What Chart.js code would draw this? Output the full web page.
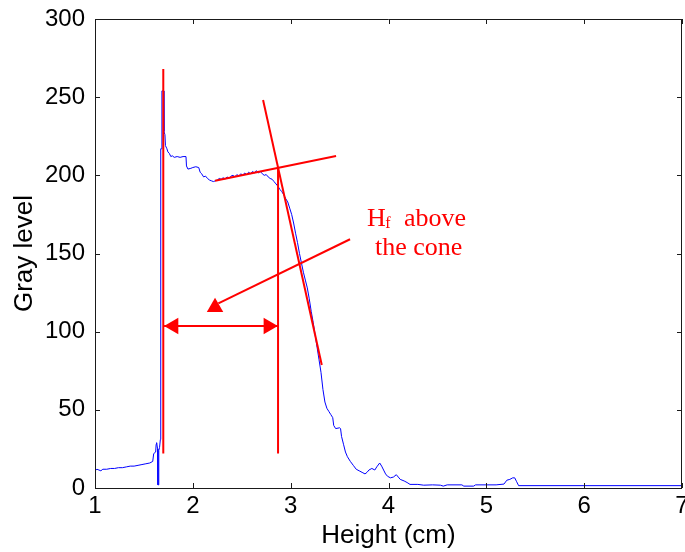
<!DOCTYPE html>
<html>
<head>
<meta charset="utf-8">
<title>Gray level profile</title>
<script src="https://cdn.jsdelivr.net/npm/chart.js@4"></script>
<style>
  html, body { margin: 0; padding: 0; background: #ffffff; }
  canvas { display: block; }
</style>
</head>
<body>
<canvas id="chart" width="685" height="552"></canvas>
<script>
// Gray-level profile along the height of the sample
const heightCm = [
  1.00, 1.02, 1.04, 1.06, 1.08, 1.12, 1.16, 1.20, 1.24, 1.28, 1.32, 1.36, 1.40, 1.44, 1.48, 1.52, 1.56, 1.59,
  1.60, 1.62, 1.625, 1.63, 1.64, 1.643, 1.648, 1.652, 1.66, 1.668, 1.672, 1.68, 1.684, 1.70, 1.705, 1.715,
  1.72, 1.735, 1.745, 1.76, 1.775, 1.79, 1.81, 1.84, 1.87, 1.90, 1.93, 1.935, 1.95, 1.98, 2.00, 2.03, 2.06,
  2.075, 2.09, 2.11, 2.13, 2.15, 2.17, 2.19, 2.21, 2.23, 2.25, 2.27, 2.29, 2.31, 2.33, 2.35, 2.37, 2.39,
  2.41, 2.43, 2.45, 2.47, 2.49, 2.51, 2.53, 2.55, 2.57, 2.59, 2.61, 2.63, 2.65, 2.67, 2.69, 2.71, 2.73,
  2.75, 2.77, 2.79, 2.81, 2.83, 2.85, 2.87, 2.89, 2.91, 2.93, 2.95, 2.97, 2.99, 3.01, 3.03, 3.05, 3.07,
  3.09, 3.11, 3.13, 3.15, 3.17, 3.19, 3.21, 3.23, 3.25, 3.27, 3.29, 3.31, 3.33, 3.35, 3.37, 3.39, 3.41,
  3.43, 3.44, 3.46, 3.50, 3.51, 3.52, 3.54, 3.56, 3.58, 3.61, 3.64, 3.67, 3.70, 3.73, 3.76, 3.78, 3.80,
  3.83, 3.86, 3.88, 3.91, 3.93, 3.95, 3.97, 3.99, 4.02, 4.05, 4.08, 4.10, 4.12, 4.16, 4.19, 4.22, 4.30,
  4.36, 4.45, 4.53, 4.56, 4.60, 4.75, 4.77, 4.87, 4.89, 5.00, 5.10, 5.18, 5.21, 5.24, 5.27, 5.29, 5.31,
  5.33, 6.00, 7.00
];
const grayLevel = [
  11, 12, 11.5, 11, 12, 12, 12.5, 12.5, 13, 13, 13.5, 14, 14, 14.5, 15, 15.5, 16, 17,
  22, 23, 28, 29, 25, 2, 2, 24, 26, 31, 217, 217, 254, 254, 228, 226,
  219, 217, 215, 214, 212, 212.5, 211.5, 212, 211.5, 212, 212, 206, 204, 204.5, 205, 205.5, 205,
  202, 201, 199, 199.5, 198, 197, 196.5, 196, 196.5, 197, 198, 197.5, 198.5, 197.5, 199, 198, 199.5,
  200, 199, 200.5, 199.5, 201, 200, 201.5, 200.5, 202, 201, 202.5, 201.5, 203, 201.5, 202.5, 201, 200,
  200.5, 199, 198, 197.5, 196, 194.5, 193, 191, 189.5, 187.5, 185, 183, 179, 175, 169.5, 163, 157,
  150, 144, 138, 133, 128, 121, 113, 106, 98, 90, 82, 74, 63, 55, 51, 49, 47,
  45, 40, 38, 38.5, 38, 33, 28, 23, 20, 17, 14.5, 12, 11, 10, 9, 10, 11.5,
  12.5, 11.5, 13.5, 16, 14, 11.5, 9, 7.5, 6.5, 7, 8.5, 7, 5.5, 4.5, 3.5, 2.3, 2.3,
  1.8, 2, 1.8, 1.2, 2, 2, 1.2, 1.2, 2, 2, 2, 2.5, 5, 5.5, 6.5, 6.5, 4,
  1.5, 1.5, 1.5
];

// Construction lines: front edges, tangents and the pointer (x in cm, y in gray level)
const leftEdgeX = [1.698, 1.698];
const leftEdgeY = [268, 22];
const frontEdgeX = [2.871, 2.871];
const frontEdgeY = [204.8, 22];
const plateauTangentX = [2.227, 3.464];
const plateauTangentY = [196.6, 212.4];
const slopeTangentX = [2.718, 3.318];
const slopeTangentY = [248.2, 78.7];
const spanArrowX = [1.706, 2.871];
const spanArrowY = [103.6, 103.6];
const pointerX = [3.607, 2.261];
const pointerY = [159.1, 118.1];

// Arrowheads (triangle centres) and their directions in degrees
const headX = [2.227, 1.803, 2.772];
const headY = [115.6, 103.6, 103.6];
const headRotation = [0, -90, 90];

// Axis ticks
const xTicks = [1, 2, 3, 4, 5, 6, 7];
const yTicks = [0, 50, 100, 150, 200, 250, 300];

const toPoints = (xs, ys) => xs.map((x, i) => ({ x: x, y: ys[i] }));

const redLine = (xs, ys) => ({
  data: toPoints(xs, ys),
  borderColor: '#ff0000',
  borderWidth: 2,
  pointRadius: 0,
  tension: 0,
  order: 0
});

// Box around the plot with inward tick marks on all four sides, plus the note
const frameAndNote = {
  id: 'frameAndNote',
  afterDatasetsDraw(chart) {
    const { ctx, chartArea: a, scales } = chart;
    const xs = scales.x, ys = scales.y;
    const tl = 5;
    ctx.save();
    ctx.strokeStyle = '#1a1a1a';
    ctx.lineWidth = 1;
    ctx.beginPath();
    ctx.rect(Math.round(a.left) + 0.5, Math.round(a.top) + 0.5,
             Math.round(a.right - a.left) - 1, Math.round(a.bottom - a.top));
    xs.ticks.forEach(t => {
      const px = Math.round(xs.getPixelForValue(t.value)) + 0.5;
      ctx.moveTo(px, a.bottom); ctx.lineTo(px, a.bottom - tl);
      ctx.moveTo(px, a.top); ctx.lineTo(px, a.top + tl);
    });
    ys.ticks.forEach(t => {
      const py = Math.round(ys.getPixelForValue(t.value)) + 0.5;
      ctx.moveTo(a.left, py); ctx.lineTo(a.left + tl, py);
      ctx.moveTo(a.right, py); ctx.lineTo(a.right - tl, py);
    });
    ctx.stroke();

    // "Hf above the cone" label
    const nx = xs.getPixelForValue(3.78);
    const ny = ys.getPixelForValue(167.6);
    const serif = '"Liberation Serif", "Times New Roman", serif';
    ctx.fillStyle = '#ff0000';
    ctx.textBaseline = 'alphabetic';
    ctx.textAlign = 'left';
    ctx.font = '26px ' + serif;
    ctx.fillText('H', nx, ny);
    const hw = ctx.measureText('H').width;
    ctx.font = '16px ' + serif;
    ctx.fillText('f', nx + hw - 0.5, ny + 2);
    ctx.font = '26px ' + serif;
    ctx.fillText('above', nx + 37, ny);
    ctx.fillText('the cone', nx + 8, ny + 29.5);
    ctx.restore();
  }
};

const tickFont = { family: '"Liberation Sans", Arial, sans-serif', size: 24 };
const titleFont = { family: '"Liberation Sans", Arial, sans-serif', size: 26 };

new Chart(document.getElementById('chart'), {
  type: 'line',
  data: {
    datasets: [
      {
        data: toPoints(heightCm, grayLevel),
        borderColor: '#0000ff',
        borderWidth: 1,
        pointRadius: 0,
        tension: 0,
        order: 1
      },
      redLine(leftEdgeX, leftEdgeY),
      redLine(frontEdgeX, frontEdgeY),
      redLine(plateauTangentX, plateauTangentY),
      redLine(slopeTangentX, slopeTangentY),
      redLine(spanArrowX, spanArrowY),
      redLine(pointerX, pointerY),
      {
        data: toPoints(headX, headY),
        showLine: false,
        pointStyle: 'triangle',
        pointRadius: 9.5,
        pointHoverRadius: 9.5,
        pointRotation: headRotation,
        pointBackgroundColor: '#ff0000',
        pointBorderColor: '#ff0000',
        pointBorderWidth: 0,
        order: 0
      }
    ]
  },
  options: {
    responsive: false,
    animation: false,
    devicePixelRatio: 1,
    layout: { autoPadding: false, padding: { left: 0, right: 3, top: 19, bottom: 0 } },
    plugins: { legend: { display: false }, tooltip: { enabled: false } },
    events: [],
    scales: {
      x: {
        type: 'linear',
        min: 1,
        max: 7,
        afterBuildTicks(scale) { scale.ticks = xTicks.map(v => ({ value: v })); },
        afterFit(scale) { scale.height = 64; scale.paddingLeft = 0; scale.paddingRight = 0; },
        grid: { display: false, drawTicks: false },
        border: { display: false },
        ticks: { color: '#000000', font: tickFont, padding: 4, maxRotation: 0, autoSkip: false },
        title: { display: true, text: 'Height (cm)', color: '#000000', font: titleFont, padding: { top: 0, bottom: 1 } }
      },
      y: {
        min: 0,
        max: 300,
        afterBuildTicks(scale) { scale.ticks = yTicks.map(v => ({ value: v })); },
        afterFit(scale) { scale.width = 95; scale.paddingTop = 0; scale.paddingBottom = 0; },
        grid: { display: false, drawTicks: false },
        border: { display: false },
        ticks: { color: '#000000', font: tickFont, padding: 10, autoSkip: false },
        title: { display: true, text: 'Gray level', color: '#000000', font: titleFont, padding: { top: 9, bottom: 0 } }
      }
    }
  },
  plugins: [frameAndNote]
});
</script>
</body>
</html>
